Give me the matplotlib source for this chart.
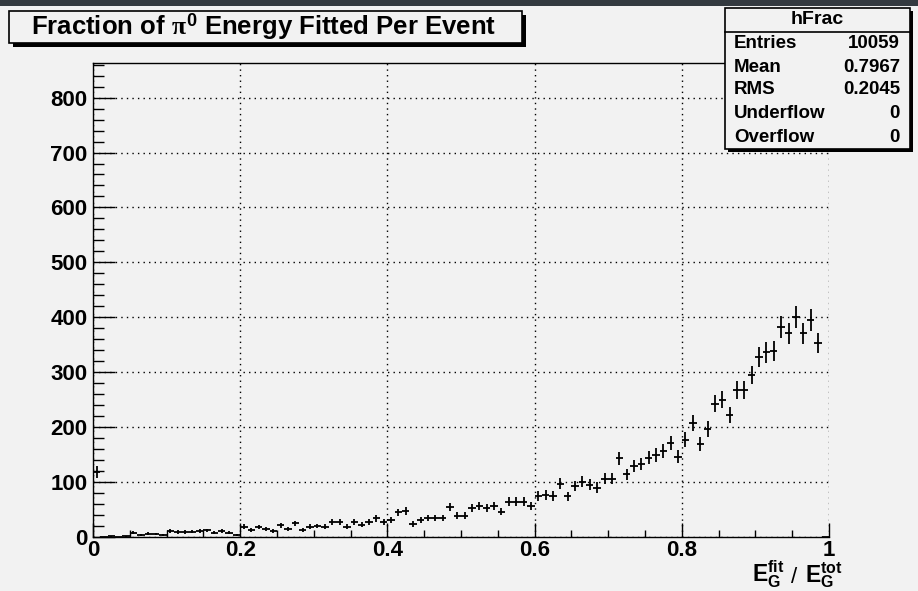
import numpy as np
import matplotlib
matplotlib.use("Agg")
import matplotlib.pyplot as plt
from matplotlib.patches import Rectangle

# histogram hFrac: 100 bins on [0, 1]
X_MIN, X_MAX, N_BINS = 0.0, 1.0, 100
COUNTS = [
    118, 0, 1, 0, 1, 8, 4, 6, 5, 3,
    11, 9, 9, 10, 11, 12, 8, 11, 8, 4,
    19, 13, 18, 14, 11, 21, 15, 25, 13, 19,
    20, 19, 27, 27, 19, 27, 22, 28, 34, 28,
    31, 45, 47, 24, 31, 35, 35, 35, 54, 39,
    39, 53, 56, 53, 56, 46, 64, 64, 64, 56,
    75, 76, 75, 97, 74, 93, 101, 95, 90, 106,
    106, 143, 114, 129, 133, 144, 149, 157, 171, 146,
    177, 208, 169, 197, 243, 250, 222, 268, 267, 295,
    328, 336, 338, 382, 371, 400, 371, 395, 353, 0,
]
Y_MAX = 863

X_TICKS = [0, 0.2, 0.4, 0.6, 0.8, 1.0]
X_TICK_LABELS = ["0", "0.2", "0.4", "0.6", "0.8", "1"]
Y_TICKS = [0, 100, 200, 300, 400, 500, 600, 700, 800]

TITLE = r"Fraction of $\pi^{\mathrm{0}}$ Energy Fitted Per Event"
X_LABEL_NUM = r"$\mathrm{E}_{\mathrm{G}}^{\mathrm{fit}}$"
X_LABEL_DEN = r"$\mathrm{E}_{\mathrm{G}}^{\mathrm{tot}}$"

STATS_NAME = "hFrac"
STATS_LABELS = ["Entries", "Mean", "RMS", "Underflow", "Overflow"]
STATS_VALUES = ["10059", "0.7967", "0.2045", "0", "0"]

BG = "#f2f2f2"
W, H = 918, 591

plt.rcParams["font.family"] = ["Liberation Sans", "DejaVu Sans"]
plt.rcParams["font.weight"] = "bold"
plt.rcParams["mathtext.fontset"] = "custom"
plt.rcParams["mathtext.rm"] = "Liberation Sans:bold"
plt.rcParams["mathtext.bf"] = "Liberation Sans:bold"
plt.rcParams["mathtext.it"] = "Liberation Serif"


def fx(x):
    return x / W


def fy(y):
    return 1 - y / H


def shadow_box(fig, x0, y0, x1, y1, off=4):
    # ROOT style box with a drop shadow, coords in pixels from top-left
    fig.patches.append(Rectangle((fx(x0 + off), fy(y1 + off)), fx(x1 - x0), (y1 - y0) / H,
                                 transform=fig.transFigure, facecolor="black",
                                 edgecolor="none", zorder=5))
    fig.patches.append(Rectangle((fx(x0), fy(y1)), fx(x1 - x0), (y1 - y0) / H,
                                 transform=fig.transFigure, facecolor=BG,
                                 edgecolor="black", lw=1.2, zorder=6))


fig = plt.figure(figsize=(W / 100, H / 100), dpi=100, facecolor=BG)

# dark strip along the top edge
fig.patches.append(Rectangle((0, fy(6)), 1, 6 / H, transform=fig.transFigure,
                             facecolor="#343a40", edgecolor="none", zorder=1))

ax = fig.add_axes([fx(93), fy(537), fx(829 - 93), (537 - 63) / H])
ax.set_facecolor(BG)

edges = np.linspace(X_MIN, X_MAX, N_BINS + 1)
centers = 0.5 * (edges[:-1] + edges[1:])
half = 0.5 * (edges[1] - edges[0])
counts = np.array(COUNTS, dtype=float)
ax.errorbar(centers, counts, xerr=half, yerr=np.sqrt(counts), fmt="none",
            ecolor="black", elinewidth=1.3, capsize=0, zorder=3)

ax.set_xlim(X_MIN, X_MAX)
ax.set_ylim(0, Y_MAX)
ax.set_xticks(X_TICKS)
ax.set_xticklabels(X_TICK_LABELS)
ax.set_xticks(np.arange(0, 1.0001, 0.05), minor=True)
ax.set_yticks(Y_TICKS)
ax.set_yticks(np.arange(0, Y_MAX, 20), minor=True)

ax.tick_params(axis="both", which="both", direction="in", colors="black",
               labelsize=16, width=1)
ax.tick_params(axis="x", which="major", length=10, pad=2)
ax.tick_params(axis="x", which="minor", length=5)
ax.tick_params(axis="y", which="major", length=16, pad=4)
ax.tick_params(axis="y", which="minor", length=8)
for lab in ax.get_xticklabels() + ax.get_yticklabels():
    lab.set_fontweight("bold")

ax.grid(True, which="major", linestyle=(0, (1, 3)), color="black", lw=1)
ax.set_axisbelow(True)
ax.spines["right"].set_visible(False)
for s in ["left", "bottom", "top"]:
    ax.spines[s].set_linewidth(1)

# axis title, bottom right
fig.text(fx(843), fy(590), X_LABEL_DEN, ha="right", va="bottom", fontsize=16.5,
         fontweight="bold")
fig.text(fx(794), fy(588), "/", ha="center", va="bottom", fontsize=16,
         fontweight="normal")
fig.text(fx(752), fy(590), X_LABEL_NUM, ha="left", va="bottom", fontsize=16.5,
         fontweight="bold")

# title box
shadow_box(fig, 9, 11, 522, 43)
fig.text(fx(264), fy(27), TITLE, ha="center", va="center", fontsize=18.5,
         fontweight="bold", zorder=7)

# stats box
shadow_box(fig, 725, 8, 910, 149, off=3)
fig.lines.append(plt.Line2D([fx(725), fx(910)], [fy(32), fy(32)],
                            transform=fig.transFigure, color="black", lw=1.2, zorder=7))
fig.text(fx(817), fy(20), STATS_NAME, ha="center", va="center", fontsize=14,
         fontweight="bold", zorder=7)
row_y = [43, 67, 90, 114, 137]
for y, lab, val in zip(row_y, STATS_LABELS, STATS_VALUES):
    fig.text(fx(734), fy(y), lab, ha="left", va="center", fontsize=13.5,
             fontweight="bold", zorder=7)
    fig.text(fx(900), fy(y), val, ha="right", va="center", fontsize=13.5,
             fontweight="bold", zorder=7)

fig.savefig("out.png", dpi=100, facecolor=BG)
